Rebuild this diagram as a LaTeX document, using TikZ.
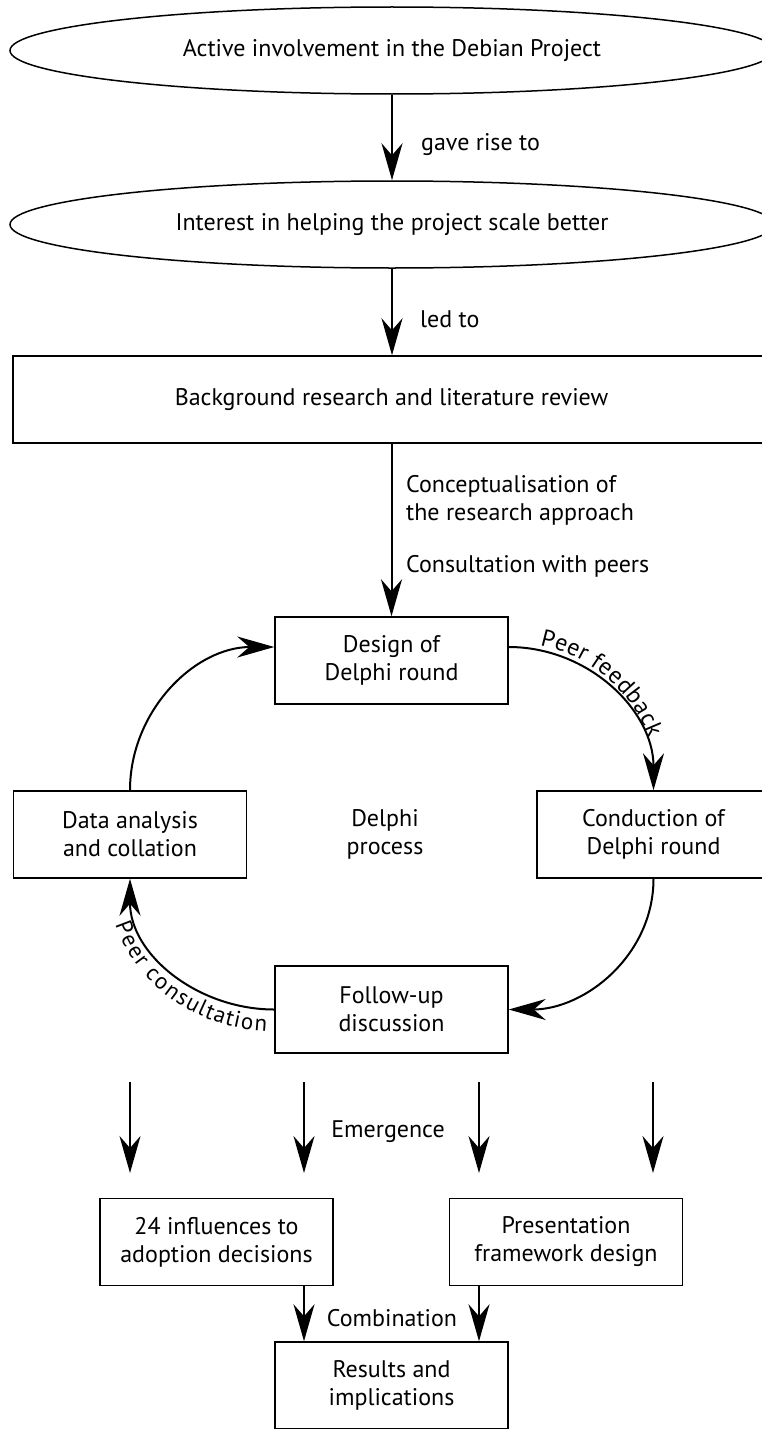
\documentclass[tikz,border=0pt]{standalone}
\usepackage{fontspec}
\setmainfont{PT Sans}
\usetikzlibrary{arrows.meta,shapes.geometric,decorations.text,calc}

\tikzset{
  txt/.style={font=\fontsize{24}{28}\selectfont},
  box/.style={txt, draw, line width=1.5pt, minimum width=233pt, minimum height=87pt,
              inner sep=0pt, align=center},
  widebox/.style={box, minimum width=757pt},
  oval/.style={txt, ellipse, draw, line width=1.5pt, minimum width=764pt,
               minimum height=87pt, inner sep=0pt},
  lab/.style={txt, inner sep=0pt, align=left},
  flow/.style={line width=2pt, -{Stealth[length=37pt,width=21pt,inset=12pt]}},
}

\begin{document}
\begin{tikzpicture}[x=1pt,y=1pt]
\useasboundingbox (0,0) rectangle (761,-1429);

% top chain
\node[oval] (act) at (392,-50.5) {Active involvement in the Debian Project};
\node[oval] (int) at (392,-224.5) {Interest in helping the project scale better};
\node[widebox] (bg) at (391.5,-399.5) {Background research and literature review};

% Delphi cycle
\node[box] (design) at (391.5,-660.5) {Design of\\Delphi round};
\node[box] (cond) at (653.5,-834.5) {Conduction of\\Delphi round};
\node[box] (data) at (130,-834.5) {Data analysis\\and collation};
\node[box] (fu) at (391.5,-1009.5) {Follow-up\\discussion};
\node[lab, align=center] (dp) at (385,-834.5) {Delphi\\process};

% outcomes
\node[box] (inf) at (216.5,-1242) {24 influences to\\adoption decisions};
\node[box] (pres) at (566,-1242) {Presentation\\framework design};
\node[box] (res) at (391.5,-1385.5) {Results and\\implications};

% connectors of the top chain
\draw[flow] (act.south) -- (int.north);
\draw[flow] (int.south) -- (int.south |- bg.north);
\draw[flow] (bg.south -| design.north) -- (design.north);

\node[lab, anchor=west] (l1) at (421,-145) {gave rise to};
\node[lab, anchor=west] (l2) at (420,-319) {led to};
\node[lab, anchor=west] (l3) at (406,-500) {Conceptualisation of\\the research approach};
\node[lab, anchor=west] (l4) at (406,-566) {Consultation with peers};

% cycle connectors
\coordinate (dw) at ($(design.west)+(0,13.5)$);
\coordinate (de) at ($(design.east)+(0,13.5)$);
\draw[flow] (data.north) to[out=90,in=180] (dw);
\draw[flow] (de) to[out=0,in=90] (cond.north);
\path[decorate, decoration={text along path, raise=5pt,
      text align={left indent=30pt},
      text={|\fontsize{24}{28}\selectfont|Peer feedback}}]
  (de) to[out=0,in=90] (cond.north);
\draw[flow] (cond.south) to[out=-90,in=0] (fu.east);
\draw[flow] (fu.west) to[out=180,in=-90] (data.south);
\path[decorate, decoration={text along path, raise=-22pt,
      text align={left indent=38pt},
      text={|\fontsize{23}{28}\selectfont|Peer consultation}}]
  (data.south) to[out=-90,in=180] (fu.west);

% emergence arrows
\coordinate (e1a) at (130,-1082);  \coordinate (e1b) at (130,-1173);
\coordinate (e2a) at (304,-1082);  \coordinate (e2b) at (304,-1173);
\coordinate (e3a) at (479,-1082);  \coordinate (e3b) at (479,-1173);
\coordinate (e4a) at (653,-1082);  \coordinate (e4b) at (653,-1173);
\draw[flow] (e1a) -- (e1b);
\draw[flow] (e2a) -- (e2b);
\draw[flow] (e3a) -- (e3b);
\draw[flow] (e4a) -- (e4b);
\node[lab] (em) at (388,-1132) {Emergence};

% combination arrows
\coordinate (c1) at ($(inf.south)+(87.5,0)$);
\coordinate (c2) at ($(pres.south)+(-87,0)$);
\draw[flow] (c1) -- (c1 |- res.north);
\draw[flow] (c2) -- (c2 |- res.north);
\node[lab] (comb) at (392,-1318) {Combination};
\end{tikzpicture}
\end{document}
